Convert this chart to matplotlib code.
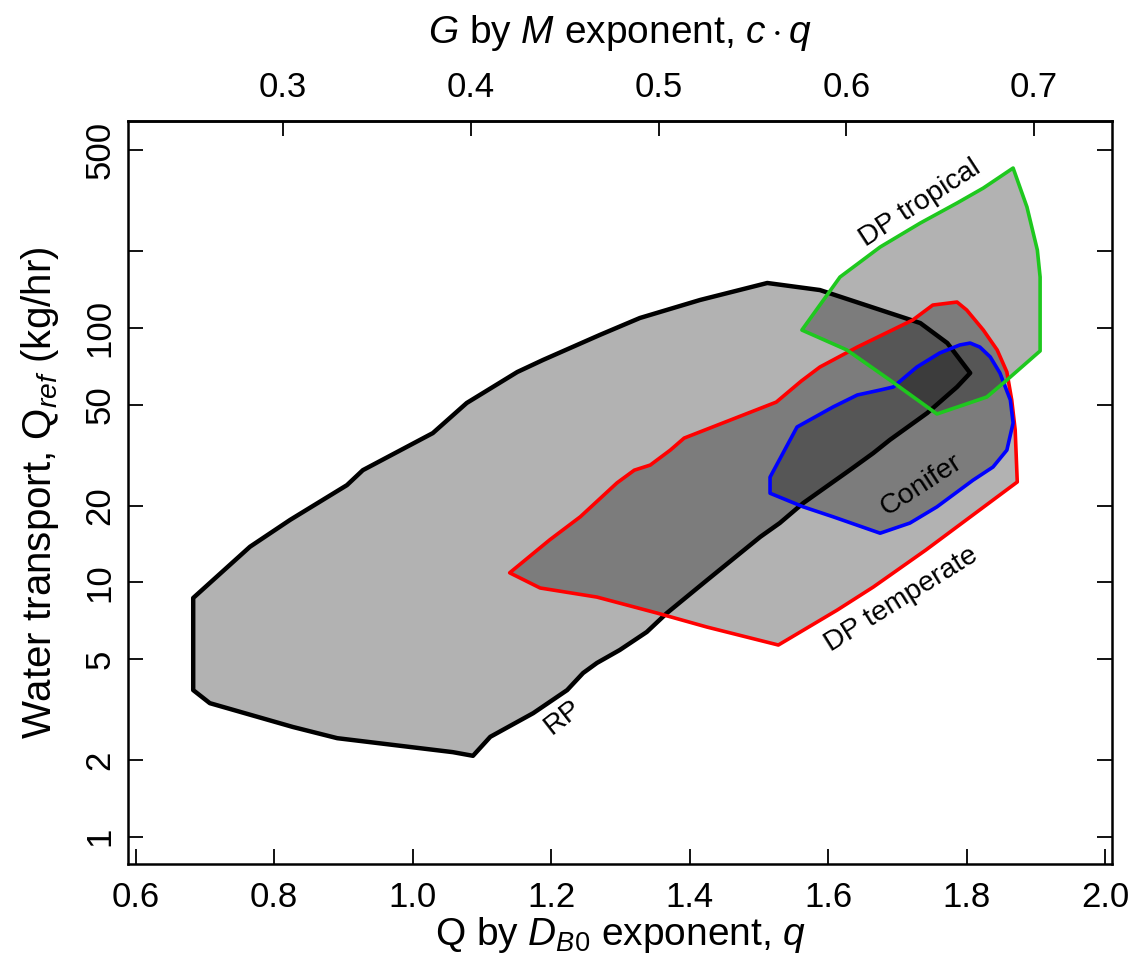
import matplotlib
matplotlib.use("Agg")
import matplotlib.pyplot as plt
from matplotlib import font_manager
from matplotlib.ticker import NullLocator

# outline vertices: q (Q by D_B0 exponent) and Q_ref (kg/hr)
rp_q = [0.683, 0.765, 0.823, 0.905, 0.928, 1.029, 1.078, 1.151, 1.188, 1.270,
        1.328, 1.415, 1.512, 1.588, 1.733, 1.772, 1.805, 1.786, 1.743, 1.689,
        1.665, 1.631, 1.564, 1.530, 1.502, 1.425, 1.367, 1.338, 1.299, 1.266,
        1.246, 1.223, 1.174, 1.112, 1.087, 1.058, 0.891, 0.827, 0.707, 0.683]
rp_Q = [8.68, 13.8, 17.6, 24.1, 27.6, 38.6, 50.7, 67.1, 74.8, 93.8,
        109.4, 128.8, 150.2, 140.9, 104.5, 87.2, 66.5, 58.6, 46.3, 36.3,
        32.2, 27.6, 20.5, 17.1, 15.1, 10.2, 7.57, 6.38, 5.42, 4.82,
        4.40, 3.77, 3.06, 2.47, 2.08, 2.15, 2.44, 2.70, 3.35, 3.77]

temp_q = [1.140, 1.198, 1.242, 1.295, 1.320, 1.343, 1.372, 1.392, 1.525, 1.561,
          1.588, 1.642, 1.722, 1.751, 1.786, 1.800, 1.824, 1.844, 1.858, 1.865,
          1.870, 1.873, 1.741, 1.665, 1.613, 1.528, 1.425, 1.353, 1.266, 1.184]
temp_Q = [10.9, 14.7, 18.1, 24.6, 27.6, 28.9, 33.1, 36.9, 51.1, 61.8,
          70.2, 84.1, 107.4, 123.0, 126.4, 117.6, 98.1, 81.9, 67.1, 52.1,
          39.7, 24.8, 13.4, 9.58, 7.78, 5.67, 6.67, 7.57, 8.75, 9.50]

con_q = [1.790, 1.761, 1.728, 1.694, 1.675, 1.642, 1.607, 1.555, 1.516, 1.516,
         1.564, 1.607, 1.675, 1.718, 1.757, 1.809, 1.838, 1.858, 1.867, 1.863,
         1.848, 1.834, 1.819, 1.805]
con_Q = [85.7, 79.7, 70.2, 58.6, 57.0, 54.5, 48.9, 40.8, 25.9, 22.4,
         19.8, 18.1, 15.6, 17.1, 19.8, 25.2, 28.4, 33.1, 42.3, 52.1,
         66.5, 76.9, 84.1, 87.2]

trop_q = [1.867, 1.824, 1.786, 1.733, 1.675, 1.617, 1.562, 1.627, 1.689, 1.757,
          1.829, 1.858, 1.906, 1.906, 1.902, 1.887]
trop_Q = [425.1, 354.7, 309.7, 258.4, 208.0, 158.5, 98.1, 81.9, 62.4, 45.9,
          53.5, 62.4, 81.2, 158.5, 202.4, 298.7]

c_coef = 0.369  # top axis shows c*q

x_ticks = [0.6, 0.8, 1.0, 1.2, 1.4, 1.6, 1.8, 2.0]
x_labels = ["0.6", "0.8", "1.0", "1.2", "1.4", "1.6", "1.8", "2.0"]
top_ticks = [0.3, 0.4, 0.5, 0.6, 0.7]
y_ticks = [1, 2, 5, 10, 20, 50, 100, 200, 500]
y_labels = ["1", "2", "5", "10", "20", "50", "100", "", "500"]

names = ["RP", "DP temperate", "Conifer", "DP tropical"]
name_pos = [(1.217, 2.95, 38), (1.705, 8.52, 32), (1.734, 24.1, 33), (1.733, 309.7, 33)]

avail = {f.name for f in font_manager.fontManager.ttflist}
narrow = "Liberation Sans Narrow" if "Liberation Sans Narrow" in avail else "Liberation Sans"
plt.rcParams['font.family'] = ['Liberation Sans', 'DejaVu Sans']
plt.rcParams['mathtext.fontset'] = 'custom'
plt.rcParams['mathtext.rm'] = 'Liberation Sans'
plt.rcParams['mathtext.it'] = 'Liberation Sans:italic'

fig = plt.figure(figsize=(11.34, 9.61), dpi=100)
ax = fig.add_axes([0.1126, 0.1006, 0.8683, 0.7738])

shade = (0, 0, 0, 0.3)
polys = [(rp_q, rp_Q, "black", 3.2), (temp_q, temp_Q, "#ff0000", 2.6),
         (con_q, con_Q, "#0000ff", 2.6), (trop_q, trop_Q, "#1ec81e", 2.6)]
for xs, ys, col, lw in polys:
    ax.fill(xs, ys, facecolor=shade, edgecolor="none")
for xs, ys, col, lw in polys:
    ax.fill(xs, ys, facecolor="none", edgecolor=col, linewidth=lw, joinstyle="round")

for name, (xq, yq, rot) in zip(names, name_pos):
    ax.text(xq, yq, name, fontsize=20.5, rotation=rot, ha="center", va="center",
            rotation_mode="anchor")

ax.set_yscale("log")
ax.set_xlim(0.5884, 2.0103)
ax.set_ylim(0.779, 652.5)
ax.set_xticks(x_ticks)
ax.set_xticklabels(x_labels, fontfamily=narrow, fontsize=25)
ax.set_yticks(y_ticks)
ax.set_yticklabels(y_labels, fontfamily=narrow, fontsize=25, rotation=90, va="center")
ax.yaxis.set_minor_locator(NullLocator())
ax.tick_params(direction="in", length=11, width=1.3, right=True, pad=12)
ax.tick_params(axis="y", pad=8)
for s in ax.spines.values():
    s.set_linewidth(1.8)

top = ax.secondary_xaxis("top", functions=(lambda q: c_coef * q, lambda t: t / c_coef))
top.set_xticks(top_ticks)
top.set_xticklabels([str(t) for t in top_ticks], fontfamily=narrow, fontsize=25)
top.tick_params(direction="in", length=11, width=1.3, pad=12)
top.spines["top"].set_linewidth(1.8)
top.set_xlabel(r"$G$ by $M$ exponent, $c \cdot q$", fontsize=28, labelpad=20)

ax.set_xlabel(r"Q by $D_{B0}$ exponent, $q$", fontsize=28, labelpad=1)
ax.set_ylabel(r"Water transport, Q$_{ref}$ (kg/hr)", fontsize=29, labelpad=16)

fig.savefig("out.png", dpi=100)
